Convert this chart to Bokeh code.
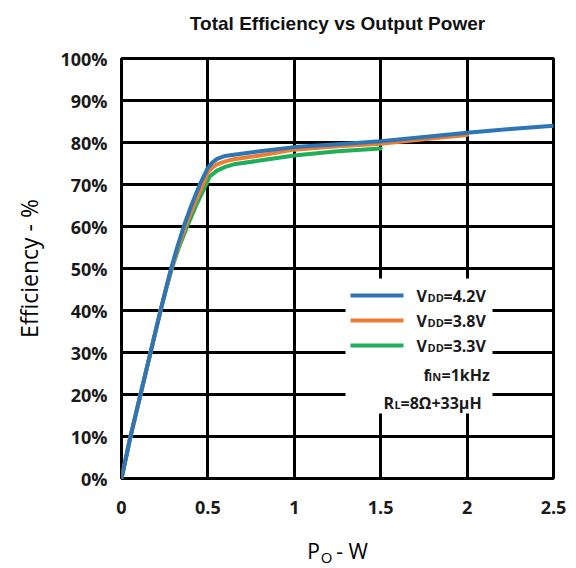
from bokeh.plotting import figure
from bokeh.models import (Range1d, FixedTicker, PrintfTickFormatter, Label, BoxAnnotation)
from bokeh.embed import file_html
from bokeh.resources import INLINE

# ---------------- data ----------------
title_text = "Total Efficiency vs Output Power"
y_label = "Efficiency - %"
x_label_main = "P\u00a0\u00a0\u00a0- W"
x_label_sub = "O"
x_ticks = [0, 0.5, 1, 1.5, 2, 2.5]
x_tick_labels = ["0", "0.5", "1", "1.5", "2", "2.5"]
y_ticks = [0, 10, 20, 30, 40, 50, 60, 70, 80, 90, 100]

p_42 = [0, 0.052, 0.11, 0.168, 0.226, 0.256, 0.287, 0.322, 0.36, 0.404, 0.453, 0.48, 0.50, 0.525, 0.553, 0.60, 0.65, 0.80, 1.0, 1.25, 1.5, 1.75, 2.0, 2.25, 2.5]
e_42 = [0, 10, 20, 30, 40, 45, 50, 55, 60, 65, 70, 72.3, 74.0, 75.2, 76.1, 76.8, 77.1, 77.9, 78.9, 79.6, 80.3, 81.3, 82.3, 83.2, 84.0]

p_38 = [0, 0.052, 0.11, 0.168, 0.226, 0.257, 0.289, 0.327, 0.37, 0.418, 0.473, 0.50, 0.525, 0.553, 0.60, 0.65, 0.80, 1.0, 1.25, 1.5, 1.75, 2.0]
e_38 = [0, 10, 20, 30, 40, 45, 50, 55, 60, 65, 70, 72.9, 74.0, 74.8, 75.5, 76.0, 76.9, 78.3, 79.1, 79.7, 80.8, 81.8]

p_33 = [0, 0.052, 0.11, 0.168, 0.226, 0.258, 0.291, 0.332, 0.38, 0.432, 0.49, 0.51, 0.553, 0.60, 0.65, 0.80, 1.0, 1.25, 1.5]
e_33 = [0, 10, 20, 30, 40, 45, 50, 55, 60, 65, 70, 71.9, 73.3, 74.2, 74.8, 75.7, 76.9, 77.9, 78.6]

series_labels = [("V", "DD", "=4.2V"), ("V", "DD", "=3.8V"), ("V", "DD", "=3.3V")]
cond_labels = [("f", "IN", "=1kHz"), ("R", "L", "=8Ω+33μH")]
colors = ["#2e75b6", "#ed7d31", "#1fae5b"]

# ---------------- figure ----------------
W, H = 576, 568
FL, FR, FT, FB = 121, 553, 58, 478  # frame edges in px

p = figure(width=W, height=H, output_backend="svg", toolbar_location=None,
           x_range=Range1d(0, 2.5), y_range=Range1d(0, 100),
           min_border_left=FL, min_border_right=W - FR,
           min_border_top=FT, min_border_bottom=H - FB)
p.background_fill_color = "white"
p.border_fill_color = "white"
p.outline_line_color = "black"
p.outline_line_width = 3
p.title.text = ""

for ax in (p.xaxis, p.yaxis):
    ax.axis_line_color = None
    ax.major_tick_line_color = None
    ax.minor_tick_line_color = None
    ax.major_label_text_font = "Open Sans"
    ax.major_label_text_font_style = "bold"
    ax.major_label_text_font_size = "18px"
    ax.major_label_text_color = "#1a1a1a"
    ax.axis_label_text_font = "Open Sans"
    ax.axis_label_text_font_style = "normal"
    ax.axis_label_text_color = "#000000"

p.xaxis.ticker = FixedTicker(ticks=x_ticks)
p.xaxis.major_label_overrides = {t: l for t, l in zip(x_ticks, x_tick_labels)}
p.xaxis.major_label_standoff = 16
p.xaxis.axis_label = x_label_main
p.xaxis.axis_label_text_font_size = "21px"
p.xaxis.axis_label_standoff = 20

p.yaxis.ticker = FixedTicker(ticks=y_ticks)
p.yaxis.formatter = PrintfTickFormatter(format="%d%%")
p.yaxis.major_label_standoff = 8
p.yaxis.axis_label = y_label
p.yaxis.axis_label_text_font_size = "23px"
p.yaxis.axis_label_standoff = 12

p.xgrid.grid_line_color = "black"
p.ygrid.grid_line_color = "black"
p.xgrid.grid_line_width = 3
p.ygrid.grid_line_width = 3
p.xgrid.grid_line_alpha = 1
p.ygrid.grid_line_alpha = 1

for xs, ys, c in ((p_33, e_33, colors[2]), (p_38, e_38, colors[1]), (p_42, e_42, colors[0])):
    p.line(xs, ys, line_color=c, line_width=4, line_join="round", line_cap="round")

# title: a label in the "above" side panel (coordinates relative to that panel:
# x from frame left, y up from frame top)
p.add_layout(Label(x=337 - FL, y=FT - 23, x_units="screen", y_units="screen",
                   text=title_text, text_font="Liberation Sans", text_font_size="19px",
                   text_font_style="bold", text_align="center", text_baseline="middle",
                   text_color="#111111"), "above")

# subscript of the x axis label, placed in the (otherwise empty) right side panel
# so that it is not clipped to the frame; coordinates relative to that panel
p.add_layout(Label(x=326 - FR, y=FB - 556, x_units="screen", y_units="screen",
                   text=x_label_sub, text_font="Open Sans", text_font_size="15px",
                   text_align="center", text_baseline="middle", text_color="#000000"), "right")


# helper: page coords -> frame screen coords (x from frame left, y up from frame bottom)
def sx(px):
    return px - FL


def sy(py):
    return FB - py


def add_text(px, py, txt, size, style="bold", align="left", font="Open Sans"):
    lab = Label(x=sx(px), y=sy(py), x_units="screen", y_units="screen", text=txt,
                text_font=font, text_font_size=size, text_font_style=style,
                text_align=align, text_baseline="middle", text_color="#1a1a1a")
    p.add_layout(lab)


# legend box
p.add_layout(BoxAnnotation(left=sx(345), right=sx(492), top=sy(278), bottom=sy(413),
                           left_units="screen", right_units="screen",
                           top_units="screen", bottom_units="screen",
                           fill_color="white", fill_alpha=1.0, line_color=None, level="annotation"))

# legend entries
MAIN, SUB = "16px", "11px"
ys_leg = [295, 320, 345]
for (a, b, c), col, yy in zip(series_labels, colors, ys_leg):
    p.add_layout(BoxAnnotation(left=sx(350), right=sx(403), top=sy(yy - 2), bottom=sy(yy + 2),
                               left_units="screen", right_units="screen",
                               top_units="screen", bottom_units="screen",
                               fill_color=col, fill_alpha=1.0, line_color=None, level="annotation"))
    add_text(416, yy, a, MAIN)
    add_text(427, yy + 2, b, SUB)
    add_text(443, yy, c, MAIN)

(a, b, c) = cond_labels[0]
add_text(423, 374, a, MAIN)
add_text(428, 376, b, SUB)
add_text(441, 374, c, MAIN)
(a, b, c) = cond_labels[1]
add_text(383, 402, a, MAIN)
add_text(394, 404, b, SUB)
add_text(400, 402, c, MAIN)

open("out.html", "w").write(file_html(p, INLINE))
